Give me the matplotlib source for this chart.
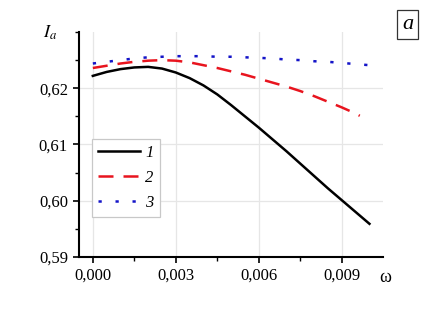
import matplotlib
matplotlib.use("Agg")
import matplotlib.pyplot as plt
from matplotlib.ticker import MultipleLocator, FuncFormatter

plt.rcParams['font.family'] = ['Liberation Serif', 'DejaVu Serif']
plt.rcParams['mathtext.fontset'] = 'stix'

# ---- data ----
omega_1 = [0.0, 0.0005, 0.001, 0.0015, 0.002, 0.0025, 0.003, 0.0035, 0.004, 0.0045,
           0.005, 0.0055, 0.006, 0.0065, 0.007, 0.0075, 0.008, 0.0085, 0.009, 0.0095, 0.010]
ia_1 = [0.6222, 0.6229, 0.6234, 0.6237, 0.6238, 0.6235, 0.6228, 0.6218, 0.6205, 0.6189,
        0.6170, 0.6150, 0.6130, 0.6109, 0.6088, 0.6066, 0.6044, 0.6022, 0.6001, 0.5980, 0.5959]

omega_2 = [0.0, 0.0005, 0.001, 0.0015, 0.002, 0.0025, 0.003, 0.0035, 0.004, 0.0045,
           0.005, 0.0055, 0.006, 0.0065, 0.007, 0.0075, 0.008, 0.0085, 0.009, 0.0095, 0.00965]
ia_2 = [0.6236, 0.6240, 0.6244, 0.6247, 0.6249, 0.6250, 0.6249, 0.6246, 0.6241, 0.6236,
        0.6230, 0.6224, 0.6217, 0.6210, 0.6203, 0.6195, 0.6186, 0.6176, 0.6166, 0.6155, 0.6151]

omega_3 = [0.0, 0.0005, 0.001, 0.0015, 0.002, 0.0025, 0.003, 0.0035, 0.004, 0.0045,
           0.005, 0.0055, 0.006, 0.0065, 0.007, 0.0075, 0.008, 0.0085, 0.009, 0.0095, 0.010]
ia_3 = [0.6244, 0.6247, 0.6250, 0.6253, 0.6255, 0.6256, 0.6257, 0.6257, 0.6257, 0.6256,
        0.6256, 0.6255, 0.6254, 0.6253, 0.6251, 0.6250, 0.6248, 0.6247, 0.6245, 0.6243, 0.6241]

labels = ['1', '2', '3']
x_ticks = [0.000, 0.003, 0.006, 0.009]
y_ticks = [0.59, 0.60, 0.61, 0.62]

W, H = 445, 310
fig = plt.figure(figsize=(W / 100, H / 100), dpi=100)
ax = fig.add_axes([79 / W, (H - 257) / H, (383 - 79) / W, (257 - 32) / H])

ax.plot(omega_1, ia_1, color='black', lw=1.8, label=labels[0], zorder=3)
ax.plot(omega_2, ia_2, color='#e8141e', lw=1.8, linestyle=(0, (6, 4)), label=labels[1], zorder=3)
ax.plot(omega_3, ia_3, color='#1414c8', lw=1.8, linestyle=(0, (1.3, 5.5)), label=labels[2], zorder=3)

ax.set_xlim(-0.0005, 0.01049)
ax.set_ylim(0.59, 0.63)
ax.set_xticks(x_ticks)
ax.set_yticks(y_ticks)
ax.xaxis.set_minor_locator(MultipleLocator(0.0015))
ax.yaxis.set_minor_locator(MultipleLocator(0.005))
ax.xaxis.set_major_formatter(FuncFormatter(lambda v, p: f"{v:.3f}".replace('.', ',')))
ax.yaxis.set_major_formatter(FuncFormatter(lambda v, p: f"{v:.2f}".replace('.', ',')))

for s in ['top', 'right']:
    ax.spines[s].set_visible(False)
for s in ['left', 'bottom']:
    ax.spines[s].set_linewidth(1.5)
ax.tick_params(which='major', direction='out', length=4, width=1.2, labelsize=12, pad=4)
ax.tick_params(which='minor', direction='out', length=3, width=1.0)
ax.grid(True, which='major', color='#e6e6e6', lw=0.9, zorder=0)
ax.set_axisbelow(True)

leg = ax.legend(loc='lower left', bbox_to_anchor=(92 / W, (H - 217) / H),
                bbox_transform=fig.transFigure, borderaxespad=0,
                prop={'family': 'Liberation Serif', 'style': 'italic', 'size': 12},
                handlelength=2.5, handletextpad=0.35, labelspacing=0.55,
                borderpad=0.35, fancybox=False, framealpha=1, edgecolor='#c8c8c8')
leg.get_frame().set_linewidth(0.9)

fig.text(50 / W, 1 - 33 / H, r'$I_a$', fontsize=13, ha='center', va='center')
fig.text(385 / W, 1 - 277 / H, 'ω', fontsize=13, ha='center', va='center')
fig.text(407.5 / W, 1 - 24.5 / H, 'a', fontsize=16, style='italic', ha='center', va='center',
         bbox=dict(boxstyle='square,pad=0.22', fc='white', ec='#333333', lw=0.9))

fig.savefig('out.png', dpi=100)
